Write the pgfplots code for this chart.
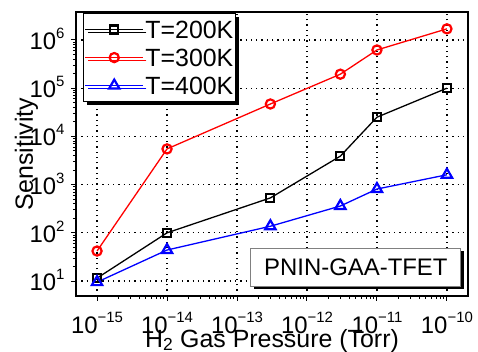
\documentclass[border=0pt]{standalone}
\usepackage{fontspec}
\setmainfont{Liberation Sans}
\usepackage{graphicx}
\usepackage{pgfplots}
\pgfplotsset{compat=1.18}
\usetikzlibrary{shadows}
\newcommand{\tl}[1]{10\raisebox{11bp}{\fontsize{15}{15}\selectfont #1}}
\begin{document}
\begin{tikzpicture}
\path[use as bounding box] (-76bp,-56bp) rectangle (402bp,296bp);
\begin{axis}[
  at={(0,0)}, anchor=south west,
  scale only axis, width=392bp, height=284bp,
  xmode=log, ymode=log,
  xmin=5.0e-16, xmax=2.0e-10,
  ymin=4.9, ymax=3.8e6,
  xtick={1e-15,1e-14,1e-13,1e-12,1e-11,1e-10},
  xticklabels={\tl{−15},\tl{−14},\tl{−13},\tl{−12},\tl{−11},\tl{−10}},
  ytick={1e1,1e2,1e3,1e4,1e5,1e6},
  yticklabels={\tl{1},\tl{2},\tl{3},\tl{4},\tl{5},\tl{6}},
  tick label style={font=\fontsize{24}{24}\selectfont},
  x tick label style={anchor=base, yshift=-33bp},
  y tick label style={anchor=base east, yshift=-9.5bp, xshift=-3bp},
  tick align=outside,
  xtick pos=left, ytick pos=left,
  major tick length=5bp, minor tick length=3bp,
  every tick/.style={black, line width=1bp},
  axis line style={line width=2bp},
  grid=major,
  major grid style={black, dash pattern=on 1.3bp off 4bp, line width=1.2bp},
  xlabel={H\textsubscript{2} Gas Pressure (Torr)},
  label style={font=\fontsize{25}{25}\selectfont},
  xlabel style={at={(axis description cs:0.5,-0.1796)}, anchor=base},
  legend style={at={(rel axis cs:0.0179,0.9965)}, anchor=north west,
    draw=black, line width=1.2bp, fill=white,
    font=\fontsize{25}{25}\selectfont,
    inner xsep=1bp, inner ysep=6bp,
    row sep=8bp,
    nodes={inner sep=1.5bp, text height=17bp, text depth=0bp},
    /tikz/every even column/.append style={column sep=5bp},
    drop shadow={shadow xshift=3bp, shadow yshift=-3bp, fill=black, opacity=1}},
  legend cell align=left,
  legend image code/.code={\draw[#1, mark repeat=2, mark phase=2] plot coordinates {(0bp,0bp) (29bp,0bp) (58bp,0bp)};},
  every axis plot/.append style={line width=1.3bp, mark options={solid, line width=2.2bp, fill=white}},
]
\addplot[black, mark=square, mark size=4bp] coordinates {
  (1e-15,11.5) (1e-14,100) (3e-13,530) (3e-12,3900) (1e-11,25000) (1e-10,1e5)};
\addlegendentry{T=200K\hspace{5bp}}
\addplot[red, mark=o, mark size=4.6bp] coordinates {
  (1e-15,42) (1e-14,5500) (3e-13,47000) (3e-12,195000) (1e-11,620000) (1e-10,1.7e6)};
\addlegendentry{T=300K\hspace{5bp}}
\addplot[blue, mark=triangle, mark size=6bp] coordinates {
  (1e-15,9.5) (1e-14,44) (3e-13,137) (3e-12,360) (1e-11,810) (1e-10,1600)};
\addlegendentry{T=400K\hspace{5bp}}
\node[draw=gray, line width=0.8bp, fill=white,
  drop shadow={shadow xshift=3bp, shadow yshift=-3bp, fill=black, opacity=1},
  minimum width=210bp, minimum height=38bp, inner sep=0bp,
  font=\fontsize{24}{24}\selectfont] at (rel axis cs:0.714,0.102) {PNIN-GAA-TFET};
\end{axis}
\node[anchor=east, inner sep=0pt, font=\fontsize{25}{25}\selectfont]
  at (-37.8bp,142bp) {\rotatebox{90}{Sensitivity}};
\end{tikzpicture}
\end{document}
